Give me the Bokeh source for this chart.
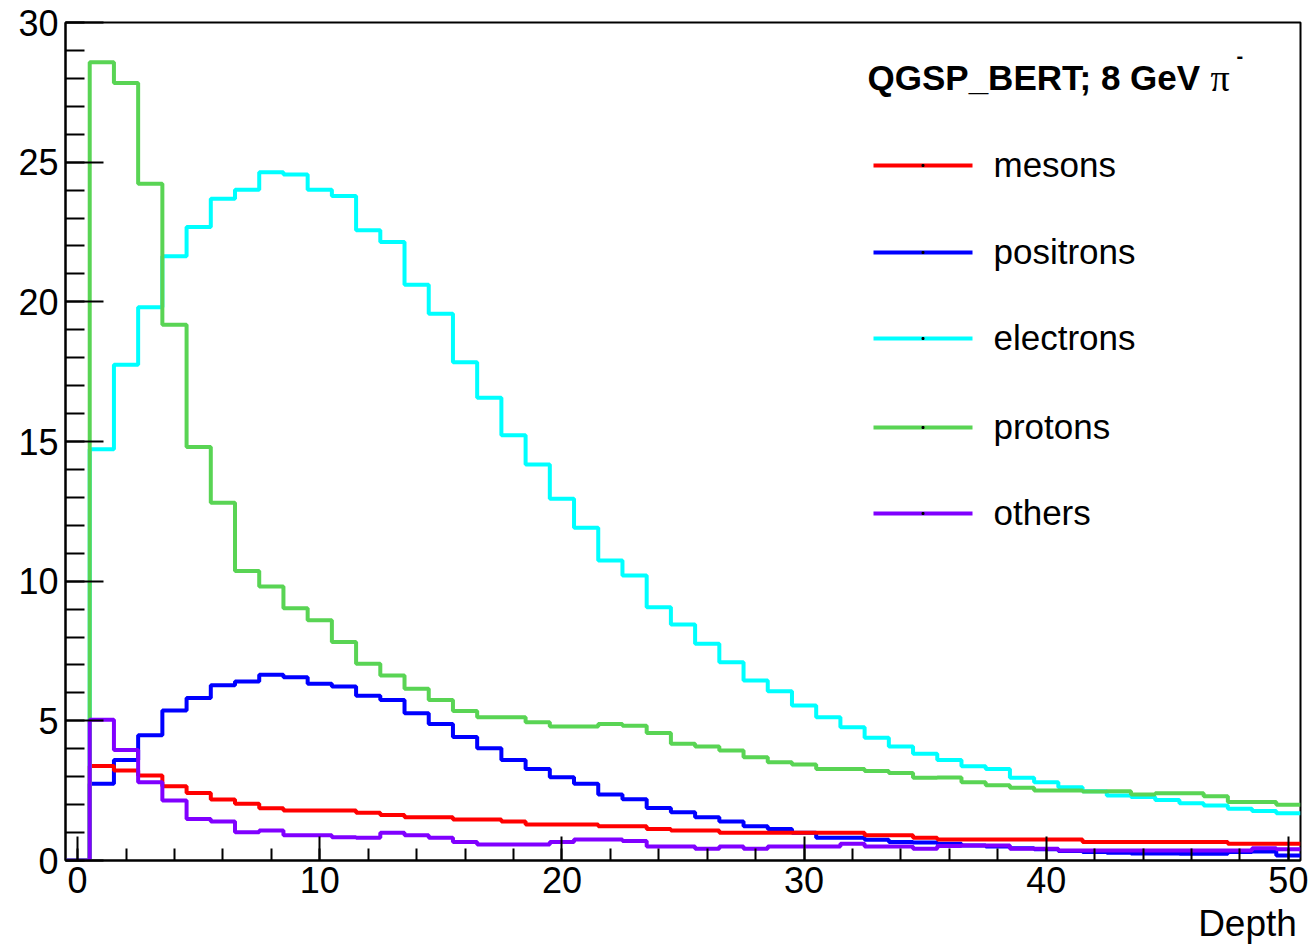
import numpy as np
from bokeh.plotting import figure
from bokeh.models import (Range1d, SingleIntervalTicker, Label, LinearAxis,
                          FixedTicker, CustomJSTickFormatter)
from bokeh.embed import file_html
from bokeh.resources import INLINE

# ---------------- data (bin centers = depth) ----------------
depth = list(range(51))

mesons = [0, 3.38, 3.22, 3.04, 2.66, 2.42, 2.18, 2.03, 1.87, 1.79,
          1.79, 1.79, 1.71, 1.63, 1.55, 1.55, 1.47, 1.47, 1.40, 1.29,
          1.29, 1.29, 1.23, 1.23, 1.13, 1.07, 1.07, 0.99, 0.99, 0.99,
          0.99, 0.99, 0.99, 0.90, 0.90, 0.81, 0.75, 0.75, 0.75, 0.75,
          0.75, 0.75, 0.66, 0.66, 0.66, 0.66, 0.66, 0.66, 0.60, 0.60,
          0.60]

positrons = [0, 2.75, 3.60, 4.48, 5.37, 5.82, 6.27, 6.41, 6.65, 6.56,
             6.33, 6.23, 5.90, 5.75, 5.27, 4.89, 4.42, 4.02, 3.60, 3.28,
             2.98, 2.75, 2.36, 2.19, 1.88, 1.73, 1.55, 1.40, 1.23, 1.13,
             0.99, 0.81, 0.81, 0.74, 0.66, 0.64, 0.60, 0.54, 0.50, 0.44,
             0.40, 0.34, 0.30, 0.28, 0.25, 0.25, 0.24, 0.24, 0.30, 0.32,
             0.18]

electrons = [0, 14.72, 17.75, 19.81, 21.63, 22.68, 23.69, 24.01, 24.64, 24.56,
             24.01, 23.79, 22.56, 22.14, 20.61, 19.57, 17.84, 16.57, 15.22, 14.18,
             12.95, 11.91, 10.74, 10.20, 9.07, 8.45, 7.76, 7.10, 6.44, 6.06,
             5.55, 5.13, 4.77, 4.39, 4.08, 3.82, 3.60, 3.37, 3.28, 2.96,
             2.80, 2.62, 2.48, 2.33, 2.27, 2.17, 2.05, 1.97, 1.85, 1.77,
             1.69]

protons = [0, 28.58, 27.83, 24.23, 19.18, 14.80, 12.81, 10.36, 9.81, 9.03,
           8.60, 7.82, 7.04, 6.62, 6.15, 5.75, 5.35, 5.13, 5.13, 4.95,
           4.80, 4.80, 4.89, 4.82, 4.56, 4.18, 4.08, 3.94, 3.70, 3.52,
           3.44, 3.28, 3.28, 3.20, 3.13, 2.96, 2.97, 2.80, 2.69, 2.60,
           2.51, 2.51, 2.47, 2.48, 2.36, 2.41, 2.41, 2.30, 2.09, 2.09,
           2.00]

others = [0, 5.04, 3.96, 2.80, 2.15, 1.49, 1.40, 1.01, 1.07, 0.90,
          0.90, 0.83, 0.81, 0.99, 0.90, 0.81, 0.66, 0.57, 0.57, 0.57,
          0.66, 0.75, 0.75, 0.70, 0.50, 0.50, 0.42, 0.50, 0.42, 0.50,
          0.50, 0.50, 0.60, 0.50, 0.50, 0.42, 0.52, 0.54, 0.54, 0.42,
          0.42, 0.36, 0.36, 0.36, 0.36, 0.36, 0.36, 0.36, 0.36, 0.44,
          0.40]

series_names = ["mesons", "positrons", "electrons", "protons", "others"]
series_values = [mesons, positrons, electrons, protons, others]
series_colors = ["#FF0000", "#0000FF", "#00FFFF", "#59D454", "#8000FF"]
draw_order = [1, 0, 2, 3, 4]

title_main = "QGSP_BERT; 8 GeV"
title_particle = "\u03c0"
title_charge = "-"
x_title = "Depth"

# ---------------- layout ----------------
W, H = 1312, 947
FL, FR, FT, FB = 65, 1300, 22, 860
X0, X1, Y0, Y1 = -0.5, 50.5, 0.0, 30.0
DY = -11  # label baseline correction (px)


def px_x(px):
    return X0 + (px - FL) / (FR - FL) * (X1 - X0)


def px_y(py):
    return Y0 + (FB - (py + DY)) / (FB - FT) * (Y1 - Y0)


FONT = "Liberation Sans"

p = figure(width=W, height=H, x_range=Range1d(X0, X1), y_range=Range1d(Y0, Y1),
           output_backend="svg", toolbar_location=None,
           min_border_left=FL, min_border_right=W - FR,
           min_border_top=FT, min_border_bottom=H - FB)
p.grid.visible = False
p.outline_line_color = "black"
p.outline_line_width = 2
p.background_fill_color = "white"
p.border_fill_color = "white"

# axes
p.xaxis.ticker = SingleIntervalTicker(interval=10, num_minor_ticks=5)
p.yaxis.ticker = SingleIntervalTicker(interval=5, num_minor_ticks=5)
for ax in (p.xaxis, p.yaxis):
    ax.axis_line_color = "black"
    ax.axis_line_width = 2
    ax.major_tick_out = 0
    ax.minor_tick_out = 0
    ax.major_tick_line_color = "black"
    ax.minor_tick_line_color = "black"
    ax.major_tick_line_width = 2
    ax.minor_tick_line_width = 2
    ax.major_label_text_font = FONT
    ax.major_label_text_font_size = "36px"
    ax.major_label_text_color = "black"
p.xaxis.major_tick_in = 24
p.xaxis.minor_tick_in = 12
p.yaxis.major_tick_in = 38
p.yaxis.minor_tick_in = 19
p.xaxis.major_label_standoff = 6
p.yaxis.major_label_standoff = 7

# x axis title at the right end: a tick-less second axis carrying one label
title_axis = LinearAxis(
    ticker=FixedTicker(ticks=[px_x(1247)], minor_ticks=[]),
    formatter=CustomJSTickFormatter(code="return %r;" % x_title),
    axis_line_color=None, major_tick_line_color=None, minor_tick_line_color=None,
    major_tick_in=0, major_tick_out=0, minor_tick_in=0, minor_tick_out=0,
    major_label_standoff=7,
    major_label_text_font=FONT, major_label_text_font_size="37px",
    major_label_text_color="black")
p.add_layout(title_axis, "below")

# histograms (ROOT style step outlines)
edges = [d - 0.5 for d in depth] + [depth[-1] + 0.5]
for i in draw_order:
    vals = series_values[i]
    p.step(x=edges, y=list(vals) + [vals[-1]], mode="after",
           line_color=series_colors[i], line_width=4)

# legend
leg_line_px = [165, 252, 338, 427, 513]
lx0, lx1, ltext = px_x(873), px_x(972), px_x(993)
for name, color, ly in zip(series_names, series_colors, leg_line_px):
    y = (FB - ly) / (FB - FT) * (Y1 - Y0)
    p.line([lx0, lx1], [y, y], line_color=color, line_width=4)
    p.scatter([(lx0 + lx1) / 2], [y], size=2, color="black", marker="square")
    p.add_layout(Label(x=ltext, y=px_y(ly + 10), text=name,
                       text_font=FONT, text_font_size="35px",
                       text_color="black", text_baseline="alphabetic"))

p.add_layout(Label(x=px_x(867), y=px_y(88), text=title_main,
                   text_font=FONT, text_font_size="35px", text_font_style="bold",
                   text_color="black", text_baseline="alphabetic"))
p.add_layout(Label(x=px_x(1210), y=px_y(88), text=title_particle,
                   text_font="Liberation Serif", text_font_size="38px",
                   text_color="black", text_baseline="alphabetic"))
p.add_layout(Label(x=px_x(1236), y=px_y(66), text=title_charge,
                   text_font=FONT, text_font_size="20px", text_font_style="bold",
                   text_color="black", text_baseline="alphabetic"))

open("out.html", "w").write(file_html(p, INLINE))
